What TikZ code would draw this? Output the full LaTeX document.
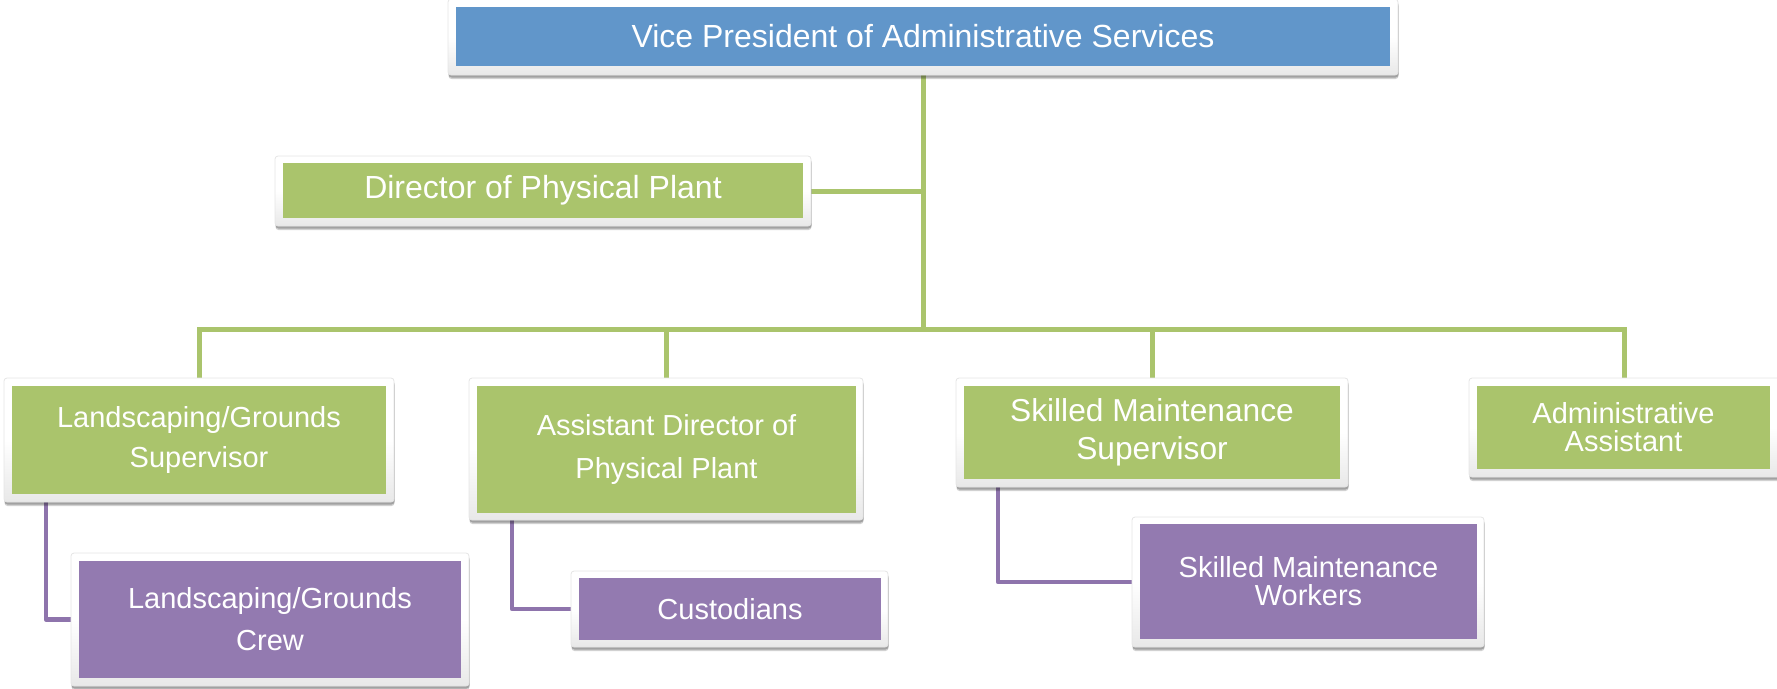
\documentclass[tikz,border=0pt]{standalone}
\usepackage{fontspec}
\setmainfont{Liberation Sans}
\usetikzlibrary{shadows,backgrounds}
\definecolor{vpblue}{RGB}{97,150,202}
\definecolor{boxgreen}{RGB}{170,196,108}
\definecolor{boxpurple}{RGB}{147,122,176}
\definecolor{lnpurple}{RGB}{142,116,172}
\tikzset{
  boxframe/.style={draw=black!10, line width=0.8pt, top color=white, bottom color=black!9, middle color=white, rounded corners=3pt,
    general shadow={shadow xshift=0.5pt, shadow yshift=-4pt, opacity=0.18, fill=black},
    drop shadow={shadow xshift=0.5pt, shadow yshift=-2.5pt, opacity=0.3, fill=black!80},
    inner sep=0pt, outer sep=0pt},
  fillbox/.style={fill=#1, draw=none, inner sep=0pt, outer sep=0pt, text=white, align=center},
  gline/.style={draw=boxgreen, line width=5pt},
  pline/.style={draw=lnpurple, line width=4.5pt, line join=round},
}
\begin{document}
\begin{tikzpicture}[x=1pt,y=-1pt]
\useasboundingbox (0,0) rectangle (1777,688);
% frames
\node[boxframe, minimum width=950pt, minimum height=76pt] (vpF) at (923,37) {};
\node[fillbox=vpblue, minimum width=934pt, minimum height=59pt, font=\fontsize{32}{38}\selectfont] (vp) at (923,36.5) {Vice President of Administrative Services};

\node[boxframe, minimum width=536pt, minimum height=70pt] (dirF) at (543,191) {};
\node[fillbox=boxgreen, minimum width=520pt, minimum height=55pt, font=\fontsize{32}{38}\selectfont] (dir) at (543,190.5) {Director of Physical Plant};

\node[boxframe, minimum width=390pt, minimum height=124pt] (lgsF) at (199,440) {};
\node[fillbox=boxgreen, minimum width=374pt, minimum height=108pt, font=\fontsize{29}{40}\selectfont] (lgs) at (199,440) {Landscaping/Grounds\\Supervisor};

\node[boxframe, minimum width=394pt, minimum height=142pt] (adF) at (666,449) {};
\node[fillbox=boxgreen, minimum width=379pt, minimum height=127pt, font=\fontsize{29}{43}\selectfont] (ad) at (666.5,449.5) {Assistant Director of\\Physical Plant};

\node[boxframe, minimum width=392pt, minimum height=109pt] (smsF) at (1152,432.5) {};
\node[fillbox=boxgreen, minimum width=376pt, minimum height=93pt, font=\fontsize{31.7}{38}\selectfont] (sms) at (1152,432.5) {Skilled Maintenance\\Supervisor};

\node[boxframe, minimum width=311pt, minimum height=99pt] (aaF) at (1624.5,427.5) {};
\node[fillbox=boxgreen, minimum width=293pt, minimum height=83pt, font=\fontsize{29}{28}\selectfont] (aa) at (1623.5,427.5) {Administrative\\Assistant};

\node[boxframe, minimum width=398pt, minimum height=133pt] (lgcF) at (270,619.5) {};
\node[fillbox=boxpurple, minimum width=382pt, minimum height=117pt, font=\fontsize{29}{42}\selectfont] (lgc) at (270,619.5) {Landscaping/Grounds\\Crew};

\node[boxframe, minimum width=317pt, minimum height=76pt] (custF) at (729.5,609) {};
\node[fillbox=boxpurple, minimum width=302pt, minimum height=62pt, font=\fontsize{29}{35}\selectfont] (cust) at (730,609) {Custodians};

\node[boxframe, minimum width=352pt, minimum height=130pt] (smwF) at (1308,582) {};
\node[fillbox=boxpurple, minimum width=337pt, minimum height=115pt, font=\fontsize{29}{28}\selectfont] (smw) at (1308.5,581.5) {Skilled Maintenance\\Workers};

\coordinate (busY) at (0,329);
\begin{pgfonlayer}{background}
\draw[gline] (vpF.south) -- (vpF.south |- busY);
\draw[gline] (dirF.east) -- (dirF.east -| vpF.south);
\draw[gline] (lgsF.north) -- (lgsF.north |- busY) -- (aaF.north |- busY) -- (aaF.north);
\draw[gline] (adF.north) -- (adF.north |- busY);
\draw[gline] (smsF.north) -- (smsF.north |- busY);
\draw[pline] (lgcF.west) -| ([xshift=42pt]lgsF.south west);
\draw[pline] (custF.west) -| ([xshift=43pt]adF.south west);
\draw[pline] (smwF.west) -| ([xshift=42pt]smsF.south west);
\end{pgfonlayer}
\end{tikzpicture}
\end{document}
